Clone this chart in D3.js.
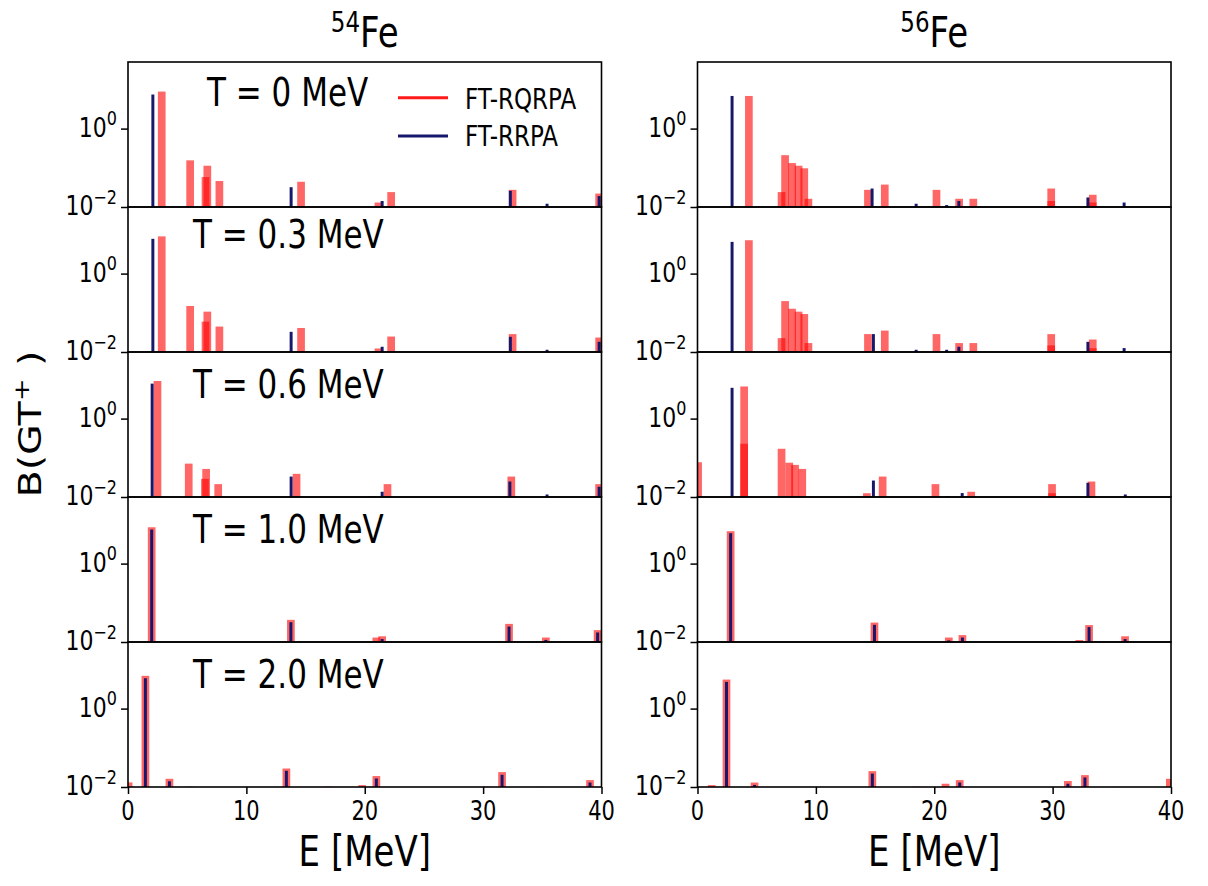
<!DOCTYPE html>
<html>
<head>
<meta charset="utf-8">
<script src="https://cdn.jsdelivr.net/npm/d3@7"></script>
<style>
  html, body { margin: 0; padding: 0; background: #fff; }
  svg text { font-family: "DejaVu Sans", sans-serif; fill: #000; }
</style>
</head>
<body>
<svg id="chart" width="1208" height="886"></svg>
<script>
// ---------------- DATA (E [MeV], B(GT+)) ----------------
const nuclei = ["54", "56"];
const temperatures = ["0", "0.3", "0.6", "1.0", "2.0"];
const xTicks = [0, 10, 20, 30, 40];
const yTicks = [0.01, 1];

// 54Fe
const fe54_T00_qrpa = [[2.85,8.8],[5.25,0.155],[6.55,0.058],[6.7,0.113],[7.72,0.046],[14.62,0.044],[21.16,0.013],[22.23,0.024],[32.49,0.0274],[39.8,0.022]];
const fe54_T00_rrpa = [[2.1,7.4],[13.78,0.032],[21.47,0.0142],[32.3,0.0259],[35.4,0.0121],[39.8,0.019]];
const fe54_T03_qrpa = [[2.85,8.9],[5.25,0.149],[6.55,0.0595],[6.7,0.107],[7.72,0.0446],[14.62,0.041],[21.16,0.0123],[22.23,0.0248],[32.49,0.0286],[39.8,0.0234]];
const fe54_T03_rrpa = [[2.1,7.7],[13.78,0.0327],[21.47,0.0136],[32.3,0.0244],[35.4,0.0114],[39.8,0.0182]];
const fe54_T06_qrpa = [[2.49,9.1],[5.13,0.071],[6.5,0.029],[6.6,0.052],[7.62,0.0213],[14.24,0.039],[20.6,0.0105],[21.92,0.0213],[32.38,0.0332],[35.8,0.0102],[39.8,0.0213]];
const fe54_T06_rrpa = [[2.04,7.8],[13.78,0.0332],[21.47,0.0136],[32.26,0.0248],[35.4,0.0116],[39.8,0.0182]];
const fe54_T10_qrpa = [[2.0,8.45],[13.76,0.0367],[20.5,0.0102],[20.98,0.013],[21.47,0.014],[32.19,0.029],[35.3,0.013],[39.67,0.0201]];
const fe54_T10_rrpa = [[2.0,7.4],[13.76,0.032],[21.47,0.0119],[32.19,0.0248],[35.3,0.0113],[39.67,0.0175]];
const fe54_T20_qrpa = [[0.05,0.0131],[1.47,6.85],[3.5,0.0162],[5.2,0.0102],[13.38,0.0296],[16.9,0.0102],[19.78,0.0112],[20.98,0.019],[30.2,0.0102],[31.6,0.024],[34.9,0.0101],[39.03,0.015]];
const fe54_T20_rrpa = [[1.47,5.95],[3.5,0.014],[13.38,0.0259],[20.98,0.0165],[31.6,0.0205],[39.03,0.013]];

// 56Fe
const fe56_T00_qrpa = [[4.34,6.8],[7.1,0.024],[7.4,0.21],[7.99,0.132],[8.54,0.113],[9.02,0.097],[9.37,0.0162],[14.4,0.0274],[15.82,0.0373],[20.19,0.0274],[22.1,0.0162],[23.3,0.0162],[29.88,0.0296],[29.88,0.0142],[33.39,0.0205],[33.39,0.013]];
const fe56_T00_rrpa = [[2.92,6.8],[14.75,0.0296],[18.47,0.0121],[21.05,0.0112],[22.08,0.0142],[32.98,0.0175],[36.04,0.013]];
const fe56_T03_qrpa = [[4.34,7.1],[7.1,0.0226],[7.4,0.199],[7.99,0.127],[8.54,0.107],[9.02,0.093],[9.37,0.0169],[14.4,0.0286],[15.82,0.0352],[20.19,0.0286],[22.1,0.0169],[23.3,0.0169],[29.88,0.0286],[29.88,0.0147],[33.39,0.0208],[33.39,0.0125]];
const fe56_T03_rrpa = [[2.92,6.45],[14.86,0.0286],[18.47,0.0114],[21.05,0.0114],[22.08,0.0136],[32.98,0.0182],[36.04,0.0126]];
const fe56_T06_qrpa = [[0.05,0.077],[3.94,6.6],[3.94,0.228],[7.1,0.17],[7.75,0.075],[8.24,0.066],[8.85,0.052],[14.31,0.0125],[15.64,0.0332],[20.1,0.0213],[23.12,0.0136],[29.95,0.0213],[29.95,0.0125],[33.28,0.0248]];
const fe56_T06_rrpa = [[2.92,6.1],[14.86,0.0263],[21.1,0.0105],[22.36,0.0126],[32.98,0.023],[36.14,0.0116]];
const fe56_T10_qrpa = [[2.8,6.7],[14.95,0.0313],[21.23,0.013],[22.38,0.015],[29.9,0.0102],[32.26,0.0112],[33.08,0.027],[36.12,0.014]];
const fe56_T10_rrpa = [[2.8,5.95],[14.95,0.0274],[21.23,0.011],[22.38,0.013],[33.08,0.024],[36.12,0.0119]];
const fe56_T20_qrpa = [[1.2,0.0112],[2.45,5.5],[4.82,0.013],[14.77,0.0254],[18.39,0.0102],[20.95,0.0121],[22.15,0.015],[31.29,0.0142],[32.73,0.0201],[35.5,0.0101],[39.9,0.0162]];
const fe56_T20_rrpa = [[2.45,4.8],[4.82,0.0113],[14.77,0.022],[22.15,0.013],[31.29,0.0121],[32.73,0.0175]];

const qrpaSets = [
  [fe54_T00_qrpa, fe54_T03_qrpa, fe54_T06_qrpa, fe54_T10_qrpa, fe54_T20_qrpa],
  [fe56_T00_qrpa, fe56_T03_qrpa, fe56_T06_qrpa, fe56_T10_qrpa, fe56_T20_qrpa]
];
const rrpaSets = [
  [fe54_T00_rrpa, fe54_T03_rrpa, fe54_T06_rrpa, fe54_T10_rrpa, fe54_T20_rrpa],
  [fe56_T00_rrpa, fe56_T03_rrpa, fe56_T06_rrpa, fe56_T10_rrpa, fe56_T20_rrpa]
];
const legendLabels = ["FT-RQRPA", "FT-RRPA"];

// ---------------- LAYOUT ----------------
const SY = 1.24;               // vertical stretch of the text glyphs
const colX = [128, 697.5];
const panelW = 473.5;
const rowTop = [62, 207, 352, 497, 642];
const panelH = 145;
const redW = 0.65, blueW = 0.25;
const redColor = "#ff0000", blueColor = "#17176b";
const tempLabelPos = [[79, 43.7], [65, 41.3], [65, 46], [65, 46], [65, 46]];

const svg = d3.select("#chart");
const x = d3.scaleLinear().domain([0, 40]).range([0, panelW]);
const y = d3.scaleLog().domain([0.01, 50]).range([panelH, 0]);

function stext(parent, px, py, size, anchor) {
  return parent.append("text")
    .attr("transform", `translate(${px},${py}) scale(1,${SY})`)
    .attr("font-size", size)
    .attr("text-anchor", anchor || "start");
}

nuclei.forEach((nuc, c) => {
  temperatures.forEach((T, r) => {
    const g = svg.append("g").attr("transform", `translate(${colX[c]},${rowTop[r]})`);
    const clipId = `clip-${c}-${r}`;
    g.append("clipPath").attr("id", clipId)
      .append("rect").attr("x", 0).attr("y", 0).attr("width", panelW).attr("height", panelH);
    const plot = g.append("g").attr("clip-path", `url(#${clipId})`);

    plot.selectAll("rect.q").data(qrpaSets[c][r]).join("rect")
      .attr("class", "q")
      .attr("x", d => x(d[0] - redW / 2))
      .attr("width", x(redW) - x(0))
      .attr("y", d => y(d[1]))
      .attr("height", d => panelH - y(d[1]))
      .attr("fill", redColor).attr("fill-opacity", 0.6);

    plot.selectAll("rect.r").data(rrpaSets[c][r]).join("rect")
      .attr("class", "r")
      .attr("x", d => x(d[0] - blueW / 2))
      .attr("width", x(blueW) - x(0))
      .attr("y", d => y(d[1]))
      .attr("height", d => panelH - y(d[1]))
      .attr("fill", blueColor);

    // y axis
    const yAxis = g.append("g").call(d3.axisLeft(y).tickValues(yTicks).tickSize(7).tickFormat(""));
    yAxis.select(".domain").remove();
    yAxis.selectAll("line").attr("stroke", "#000").attr("stroke-width", 1.5);
    yTicks.forEach(t => {
      const tx = stext(g, -11, y(t) + 8, 22, "end");
      tx.append("tspan").text("10");
      tx.append("tspan").attr("dy", -9).attr("font-size", 16).text(Math.round(Math.log10(t)) === 0 ? "0" : "\u22122");
    });

    // x axis on bottom row
    if (r === temperatures.length - 1) {
      const xAxis = g.append("g").attr("transform", `translate(0,${panelH})`)
        .call(d3.axisBottom(x).tickValues(xTicks).tickSize(7).tickFormat(""));
      xAxis.select(".domain").remove();
      xAxis.selectAll("line").attr("stroke", "#000").attr("stroke-width", 1.5);
      xTicks.forEach(t => {
        stext(g, x(t), panelH + 33, 21, "middle").text(t);
      });
    }

    // frame
    g.append("rect").attr("x", 0).attr("y", 0).attr("width", panelW).attr("height", panelH)
      .attr("fill", "none").attr("stroke", "#000").attr("stroke-width", 1.6);

    // temperature label (left column only)
    if (c === 0) {
      stext(g, tempLabelPos[r][0], tempLabelPos[r][1], 31, "start").text(`T = ${T} MeV`);
    }
  });

  // column title
  const title = stext(svg, colX[c] + panelW / 2, 47, 34, "middle");
  title.append("tspan").attr("font-size", 23).attr("dy", -12).text(nuc);
  title.append("tspan").attr("dy", 12).text("Fe");

  // x label
  stext(svg, colX[c] + panelW / 2, 866, 34, "middle").text("E [MeV]");
});

// legend in top-left panel
const legend = svg.append("g");
[[redColor, 97.7, 109, 0.9], [blueColor, 136, 145.7, 1]].forEach((d, i) => {
  legend.append("line").attr("x1", 398).attr("x2", 448).attr("y1", d[1]).attr("y2", d[1])
    .attr("stroke", d[0]).attr("stroke-width", 3).attr("stroke-opacity", d[3]);
  stext(legend, 465, d[2], 23, "start").text(legendLabels[i]);
});

// y label
const yl = svg.append("text")
  .attr("transform", `translate(41,424) scale(1,${SY}) rotate(-90)`)
  .attr("font-size", 32).attr("text-anchor", "middle");
yl.append("tspan").text("B(GT");
yl.append("tspan").attr("dy", -12).attr("font-size", 22).text("+");
yl.append("tspan").attr("dy", 12).text(" )");
</script>
</body>
</html>
